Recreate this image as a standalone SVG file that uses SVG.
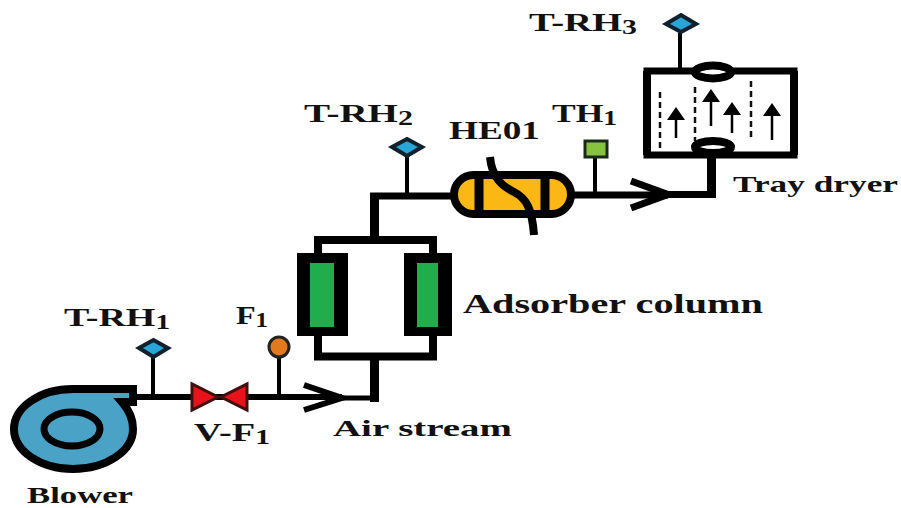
<svg xmlns="http://www.w3.org/2000/svg" width="901" height="508" viewBox="0 0 901 508">
<style>
.p{fill:none;stroke:#000;stroke-linejoin:miter;stroke-linecap:butt}
.s{fill:none;stroke:#000;stroke-width:4}
.d{fill:#29a5d8;stroke:#10202c;stroke-width:4}
.t{font-family:"Liberation Serif","DejaVu Serif",serif;fill:#111;font-size:26px;font-weight:bold}
.b{font-family:"Liberation Serif","DejaVu Serif",serif;fill:#111;font-weight:bold;font-size:23px}
.u{font-size:20px;font-weight:bold}
</style>
<rect width="901" height="508" fill="#fff"/>
<g id="connectors">
<path class="p" stroke-width="6" d="M132 397H342"/>
<path class="p" stroke-width="6" d="M304 385 342 398 304 410"/>
<path class="p" stroke-width="5" d="M342 398H379"/>
<path class="p" stroke-width="9" d="M374.500 402V356"/>
<path class="p" stroke-width="8" d="M318 336V356.500H433V336"/>
<path class="p" stroke-width="8" d="M318 253V240H433V253"/>
<path class="p" stroke-width="9" d="M374.500 240V196"/>
<path class="p" stroke-width="7" d="M370 196H452"/>
<path class="p" stroke-width="7" d="M573 195H668"/>
<path class="p" stroke-width="7" d="M631 181 668 194.500 631 208"/>
<path class="p" stroke-width="7" d="M668 194.500H716"/>
<path class="p" stroke-width="9" d="M711.500 198V155"/>
<path class="s" d="M153 357V397M279 358V397M407 156V196M595 158V195M680 33V68"/>
</g>
<g id="blower">
<path d="M73 389H133V402H122C129 410 133 419 133 429A60 40 0 0 1 73 469A59 40 0 0 1 14 429A59 40 0 0 1 73 389Z" fill="#4aa3c7" stroke="#000" stroke-width="8"/>
<ellipse cx="72" cy="429" rx="28" ry="17" fill="#4aa3c7" stroke="#000" stroke-width="7"/>
<text class="b" x="27" y="503" textLength="106" lengthAdjust="spacingAndGlyphs">Blower</text>
</g>
<g id="t-rh1">
<path class="d" d="M139 348 153.500 340 168 348 153.500 357Z"/>
<text class="t" x="64" y="326" textLength="106" lengthAdjust="spacingAndGlyphs">T-RH<tspan class="u" dy="3">1</tspan></text>
</g>
<g id="v-f1">
<path d="M192 384V410L218 397Z M247 384V410L221 397Z" fill="#e8131a" stroke="#40100f" stroke-width="3"/>
<text class="t" x="194" y="441" textLength="76" lengthAdjust="spacingAndGlyphs">V-F<tspan class="u" dy="3">1</tspan></text>
</g>
<g id="f1">
<circle cx="279" cy="347" r="10" fill="#e07a1c" stroke="#222" stroke-width="3"/>
<text class="t" x="236" y="324" textLength="32" lengthAdjust="spacingAndGlyphs">F<tspan class="u" dy="3">1</tspan></text>
</g>
<g id="air-stream"><text class="b" x="333" y="436" textLength="179" lengthAdjust="spacingAndGlyphs">Air stream</text></g>
<g id="adsorber-column">
<rect x="297" y="253" width="51" height="83" fill="#000"/>
<rect x="310" y="263" width="24" height="64" fill="#22ad4c"/>
<rect x="404" y="253" width="48" height="83" fill="#000"/>
<rect x="417" y="263" width="21" height="64" fill="#22ad4c"/>
<text class="b" x="463" y="313" style="font-size:27px" textLength="300" lengthAdjust="spacingAndGlyphs">Adsorber column</text>
</g>
<g id="t-rh2">
<path class="d" d="M392 147 407 139 422 147 407 156Z"/>
<text class="t" x="304" y="122" textLength="109" lengthAdjust="spacingAndGlyphs">T-RH<tspan class="u" dy="3">2</tspan></text>
</g>
<g id="he01">
<rect x="454" y="175" width="117" height="39" rx="19.500" fill="#fbb714" stroke="#000" stroke-width="8"/>
<path d="M479 175V214M545 175V214" stroke="#000" stroke-width="9" fill="none"/>
<path d="M490 157C492 178 502 186 514 192 526 198 532 208 534 235" stroke="#000" stroke-width="8" fill="none"/>
<text class="t" x="449" y="139" textLength="91" lengthAdjust="spacingAndGlyphs">HE01</text>
</g>
<g id="th1">
<rect x="585" y="141" width="22" height="16" fill="#86c440" stroke="#1a2a1a" stroke-width="3"/>
<text class="t" x="552" y="122" textLength="65" lengthAdjust="spacingAndGlyphs">TH<tspan class="u" dy="3">1</tspan></text>
</g>
<g id="t-rh3">
<path class="d" d="M666 24 681 15 696 24 681 32Z"/>
<text class="t" x="529" y="31" textLength="108" lengthAdjust="spacingAndGlyphs">T-RH<tspan class="u" dy="3">3</tspan></text>
</g>
<g id="tray-dryer">
<rect x="647" y="71" width="147" height="84" fill="#fff" stroke="#000" stroke-width="7"/>
<path d="M647 71V155M794 71V155" stroke="#000" stroke-width="8"/>
<ellipse cx="713" cy="72" rx="18" ry="6.500" fill="#fff" stroke="#000" stroke-width="8"/>
<ellipse cx="713" cy="147" rx="18" ry="6" fill="#fff" stroke="#000" stroke-width="8"/>
<path d="M660 92V150M695 87V141M751 81V139" stroke="#111" stroke-width="2.500" stroke-dasharray="6 4" fill="none"/>
<path d="M676 138V118M711 126V99M732 133V112M772 140V114" stroke="#000" stroke-width="2.500" fill="none"/>
<path d="M667 120 676 107 685 120ZM702 102 711 89 720 102ZM723 115 732 102 741 115ZM763 116 772 103 781 116Z" fill="#000"/>
<text class="b" x="733" y="192" textLength="165" lengthAdjust="spacingAndGlyphs">Tray dryer</text>
</g>
</svg>
